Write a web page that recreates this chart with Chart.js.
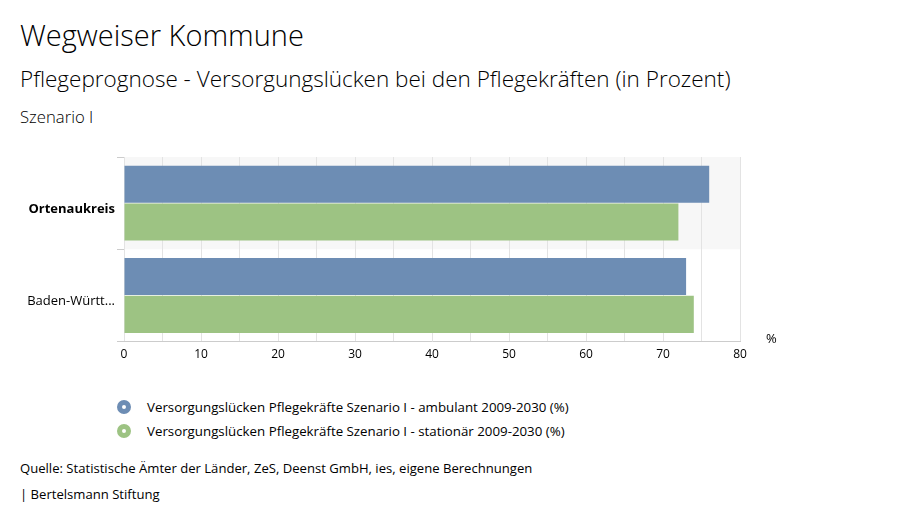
<!DOCTYPE html>
<html>
<head>
<meta charset="utf-8">
<script src="https://cdn.jsdelivr.net/npm/chart.js@4"></script>
<style>
  body { margin: 0; width: 900px; height: 523px; background: #fff; font-family: "Open Sans", sans-serif; color: #000; position: relative; overflow: hidden; }
  .t { position: absolute; left: 20px; white-space: nowrap; }
  #title { top: 15px; font-size: 29px; font-weight: 300; }
  #sub { top: 63px; font-size: 22.5px; font-weight: 300; }
  #scen { top: 105px; font-size: 16.7px; font-weight: 300; }
  #wrap { position: absolute; left: 0; top: 140px; width: 900px; height: 228px; }
  .leg { position: absolute; left: 117px; font-size: 13.3px; white-space: nowrap; }
  .leg span.dot { display: inline-block; width: 4px; height: 4px; border-radius: 50%; border: 5px solid; background: #fff; vertical-align: middle; margin-right: 16px; box-sizing: content-box; position: relative; top: -1px; }
  #src { top: 459px; font-size: 13.1px; }
  #brand { top: 485px; font-size: 13.1px; }
</style>
</head>
<body>
<div class="t" id="title">Wegweiser Kommune</div>
<div class="t" id="sub">Pflegeprognose - Versorgungslücken bei den Pflegekräften (in Prozent)</div>
<div class="t" id="scen">Szenario I</div>
<div id="wrap"><canvas id="myChart"></canvas></div>
<div class="leg" id="leg1" style="top:398px"></div>
<div class="leg" id="leg2" style="top:422px"></div>
<div class="t" id="src">Quelle: Statistische Ämter der Länder, ZeS, Deenst GmbH, ies, eigene Berechnungen</div>
<div class="t" id="brand">| Bertelsmann Stiftung</div>
<script>
const categories = ["Ortenaukreis", "Baden-Württ..."];
const ambulant = [76, 73];
const stationaer = [72, 74];
const seriesNames = [
  "Versorgungslücken Pflegekräfte Szenario I - ambulant 2009-2030 (%)",
  "Versorgungslücken Pflegekräfte Szenario I - stationär 2009-2030 (%)",
];
const colors = ["#6d8db4", "#9dc383"];

["leg1", "leg2"].forEach((id, i) => {
  document.getElementById(id).innerHTML =
    `<span class="dot" style="border-color:${colors[i]}"></span>${seriesNames[i]}`;
});

const bandPlugin = {
  id: "band",
  beforeDraw(chart) {
    const y = chart.scales.y;
    const area = chart.chartArea;
    const step = (y.bottom - y.top) / categories.length;
    chart.ctx.save();
    chart.ctx.fillStyle = "#f7f7f7";
    chart.ctx.fillRect(area.left, y.top, area.right - area.left, step);
    chart.ctx.restore();
  },
  afterDraw(chart) {
    const x = chart.scales.x;
    const ctx = chart.ctx;
    ctx.save();
    ctx.font = "13px 'Open Sans'";
    ctx.fillStyle = "#000";
    ctx.textBaseline = "middle";
    ctx.fillText("%", x.right + 26, x.top - 2);
    ctx.restore();
  },
};

const chart = new Chart("myChart", {
  type: "bar",
  data: {
    labels: categories,
    datasets: [
      { label: seriesNames[0], data: ambulant, backgroundColor: colors[0] },
      { label: seriesNames[1], data: stationaer, backgroundColor: colors[1] },
    ],
  },
  options: {
    indexAxis: "y",
    responsive: true,
    maintainAspectRatio: false,
    animation: false,
    categoryPercentage: 0.82,
    barPercentage: 0.98,
    layout: { padding: { top: 17, right: 160, bottom: 0, left: 0 } },
    plugins: { legend: { display: false }, tooltip: { enabled: false } },
    scales: {
      x: {
        min: 0,
        max: 80,
        ticks: {
          stepSize: 5,
          autoSkip: false,
          maxRotation: 0,
          color: "#000",
          font: { family: "Open Sans", size: 12 },
          padding: 6,
          callback: (v) => (v % 10 === 0 ? v : ""),
        },
        grid: { color: "#e3e3e3", drawTicks: false },
        border: { color: "#cccccc" },
      },
      y: {
        afterFit(scale) { scale.width = 124; },
        ticks: {
          color: "#000",
          padding: 2,
          labelOffset: 6,
          font: (c) => ({ family: "Open Sans", size: 13, weight: c.index === 0 ? "bold" : "normal" }),
        },
        grid: { offset: true, drawOnChartArea: false, tickLength: 7, color: "#cccccc" },
        border: { display: false },
      },
    },
  },
  plugins: [bandPlugin],
});
</script>
</body>
</html>
